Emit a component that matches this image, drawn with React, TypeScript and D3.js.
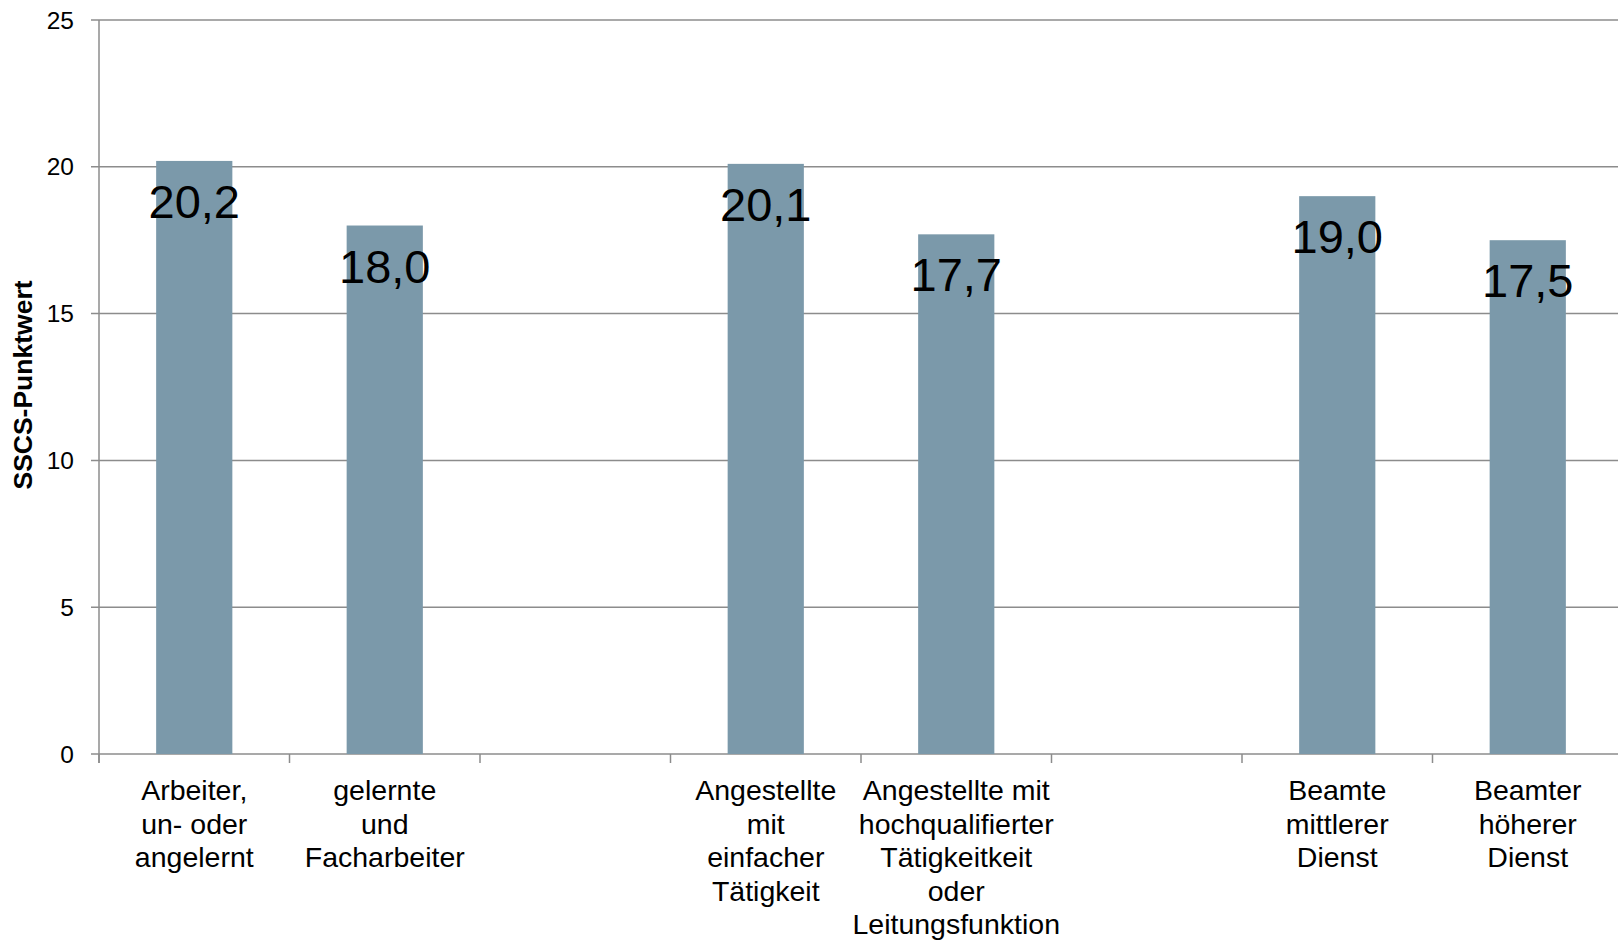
import React from "react";
import * as d3 from "d3";

const categoryLines: string[][] = [
  ["Arbeiter,", "un- oder", "angelernt"],
  ["gelernte", "und", "Facharbeiter"],
  [],
  ["Angestellte", "mit", "einfacher", "Tätigkeit"],
  ["Angestellte mit", "hochqualifierter", "Tätigkeitkeit", "oder", "Leitungsfunktion"],
  [],
  ["Beamte", "mittlerer", "Dienst"],
  ["Beamter", "höherer", "Dienst"],
];
const categoryKeys: string[] = ["c0", "c1", "gap1", "c3", "c4", "gap2", "c6", "c7"];
const values: (number | null)[] = [20.2, 18.0, null, 20.1, 17.7, null, 19.0, 17.5];
const valueLabels: string[] = ["20,2", "18,0", "", "20,1", "17,7", "", "19,0", "17,5"];
const yTicks: number[] = [0, 5, 10, 15, 20, 25];
const yTitle = "SSCS-Punktwert";

const W = 1618;
const H = 942;
const left = 99;
const top = 20;
const bottom = 754;
const step = 190.5;

export default function App() {
  const x = d3
    .scaleBand<string>()
    .domain(categoryKeys)
    .range([left, left + step * categoryKeys.length])
    .padding(0);
  const y = d3.scaleLinear().domain([0, 25]).range([bottom, top]);
  const barW = x.bandwidth() * 0.4;
  const font = "'Liberation Sans', Arial, Helvetica, sans-serif";
  const grid = "#8c8c8c";

  const boundaries = d3.range(categoryKeys.length + 1).map((i) => left + i * x.step());

  return (
    <svg
      width={W}
      height={H}
      style={{ position: "absolute", left: 0, top: 0, background: "#fff" }}
      fontFamily={font}
    >
      {yTicks.map((t) => (
        <line key={"g" + t} x1={left - 8} x2={W} y1={y(t)} y2={y(t)} stroke={grid} strokeWidth={1.5} />
      ))}
      <line x1={left} x2={left} y1={y(25)} y2={bottom + 9} stroke={grid} strokeWidth={1.5} />
      {yTicks.map((t) => (
        <text key={"yt" + t} x={left - 25} y={y(t)} dy="0.35em" textAnchor="end" fontSize={24.5} fill="#000">
          {t}
        </text>
      ))}
      {boundaries.map((b, i) => (
        <line key={"xt" + i} x1={b} x2={b} y1={bottom} y2={bottom + 9} stroke={grid} strokeWidth={1.5} />
      ))}
      {categoryKeys.map((k, i) => {
        const v = values[i];
        if (v == null) return null;
        const cx = (x(k) as number) + x.bandwidth() / 2;
        return (
          <g key={"b" + k}>
            <rect x={cx - barW / 2} y={y(v)} width={barW} height={bottom - y(v)} fill="#7B99AA" />
            <text x={cx} y={y(v) + 57} textAnchor="middle" fontSize={47} fill="#000">
              {valueLabels[i]}
            </text>
          </g>
        );
      })}
      {categoryKeys.map((k, i) => {
        const cx = (x(k) as number) + x.bandwidth() / 2;
        return (
          <text key={"cl" + k} x={cx} y={800} textAnchor="middle" fontSize={28.5} fill="#000">
            {categoryLines[i].map((ln, j) => (
              <tspan key={j} x={cx} y={800 + j * 33.5}>
                {ln}
              </tspan>
            ))}
          </text>
        );
      })}
      <text
        transform={`translate(32, ${(y(0) + y(25)) / 2 - 2}) rotate(-90)`}
        textAnchor="middle"
        fontSize={26.5}
        fontWeight="bold"
        fill="#000"
      >
        {yTitle}
      </text>
    </svg>
  );
}
